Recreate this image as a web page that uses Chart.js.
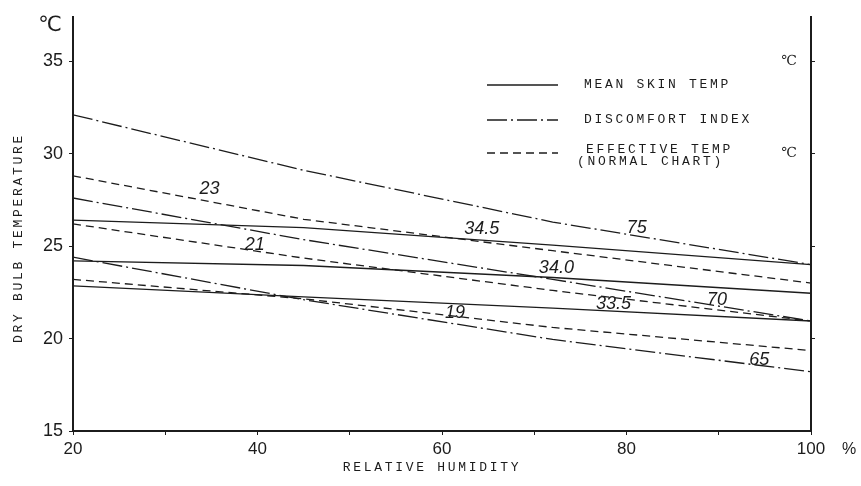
<!DOCTYPE html>
<html>
<head>
<meta charset="utf-8">
<script src="https://cdn.jsdelivr.net/npm/chart.js@4"></script>
<style>
  html, body { margin: 0; padding: 0; background: #fff; }
</style>
</head>
<body>
<canvas id="chart" width="861" height="486"></canvas>
<script>
// relative humidity (%) where the curves were read
const humidity = [20, 45, 72, 100];

// mean skin temperature isolines (deg C of dry bulb)
const skin345 = [26.4, 26.0, 25.05, 24.0];
const skin340 = [24.2, 23.95, 23.3, 22.45];
const skin335 = [22.85, 22.25, 21.65, 20.95];

// discomfort index isolines
const di75 = [32.1, 29.1, 26.3, 24.0];
const di70 = [27.6, 25.35, 23.2, 20.95];
const di65 = [24.4, 22.1, 19.95, 18.2];

// effective temperature isolines (normal chart)
const et23 = [28.8, 26.45, 24.75, 23.0];
const et21 = [26.2, 24.35, 22.6, 20.95];
const et19 = [23.2, 22.15, 20.6, 19.35];

const xTicks = [20, 30, 40, 50, 60, 70, 80, 90, 100];
const xTickLabels = ['20', '', '40', '', '60', '', '80', '', '100'];
const yTicks = [15, 20, 25, 30, 35];
const yRightTicks = [20, 25, 30, 35];
const yRightLabels = ['', '', '℃', '℃'];

// curve labels: text, humidity, temperature
const curveLabels = [
  ['34.5', 64.3, 25.95],
  ['34.0', 72.4, 23.8],
  ['33.5', 78.6, 21.85],
  ['75', 81.1, 26.0],
  ['70', 89.8, 22.1],
  ['65', 94.4, 18.85],
  ['23', 34.8, 28.1],
  ['21', 39.7, 25.05],
  ['19', 61.4, 21.4]
];

const ink = '#1c1c1c';
const SOLID = [];
const DASHDOT = [20, 4, 2, 4];
const DASHED = [8, 5];

function series(values, dash) {
  return {
    data: humidity.map((h, i) => ({ x: h, y: values[i] })),
    borderColor: ink,
    borderWidth: 1.3,
    borderDash: dash,
    pointRadius: 0,
    fill: false,
    tension: 0
  };
}

const paperText = {
  id: 'paperText',
  beforeDraw(chart) {
    const c = chart.ctx;
    c.save();
    c.fillStyle = '#fff';
    c.fillRect(0, 0, chart.width, chart.height);
    c.restore();
  },
  afterDraw(chart) {
    const c = chart.ctx;
    const xs = chart.scales.x, ys = chart.scales.y;
    c.save();
    c.fillStyle = ink;
    c.strokeStyle = ink;

    // labels on the curves
    c.font = 'italic 18px "Liberation Sans"';
    c.textAlign = 'center';
    c.textBaseline = 'middle';
    curveLabels.forEach(l => {
      c.fillText(l[0], xs.getPixelForValue(l[1]), ys.getPixelForValue(l[2]));
    });

    // degree marks inside the right axis
    c.font = '14px "DejaVu Serif"';
    yRightTicks.forEach((v, i) => {
      if (yRightLabels[i]) c.fillText(yRightLabels[i], xs.right - 22, ys.getPixelForValue(v));
    });

    // legend
    const legend = [
      [SOLID, ['MEAN SKIN TEMP']],
      [DASHDOT, ['DISCOMFORT INDEX']],
      [DASHED, ['EFFECTIVE TEMP', '(NORMAL CHART)']]
    ];
    const rows = [85, 120, 153];
    c.lineWidth = 1.3;
    c.font = '13px "Liberation Mono"';
    c.letterSpacing = '2.7px';
    c.textAlign = 'left';
    legend.forEach((item, i) => {
      c.setLineDash(item[0]);
      c.beginPath();
      c.moveTo(487, rows[i]);
      c.lineTo(558, rows[i]);
      c.stroke();
      if (item[1][1]) {
        c.fillText(item[1][0], 586, rows[i] - 3);
        c.fillText(item[1][1], 577, rows[i] + 9);
      } else {
        c.fillText(item[1][0], 584, rows[i]);
      }
    });
    c.setLineDash([]);

    // axis titles
    c.textAlign = 'center';
    c.fillText('RELATIVE HUMIDITY', (xs.left + xs.right) / 2 - 10, 468);
    c.save();
    c.translate(19, 238);
    c.rotate(-Math.PI / 2);
    c.fillText('DRY BULB TEMPERATURE', 0, 0);
    c.restore();

    c.letterSpacing = '0px';
    c.font = '21px "DejaVu Sans"';
    c.fillText('℃', 50, 26);
    c.font = '16px "Liberation Sans"';
    c.fillText('%', 849, 450);
    c.restore();
  }
};

new Chart(document.getElementById('chart').getContext('2d'), {
  type: 'line',
  data: {
    datasets: [
      series(skin345, SOLID), series(skin340, SOLID), series(skin335, SOLID),
      series(di75, DASHDOT), series(di70, DASHDOT), series(di65, DASHDOT),
      series(et23, DASHED), series(et21, DASHED), series(et19, DASHED)
    ]
  },
  options: {
    responsive: false,
    animation: false,
    layout: { padding: { top: 10, left: 0, right: 0, bottom: 0 } },
    plugins: { legend: { display: false }, tooltip: { enabled: false } },
    scales: {
      x: {
        type: 'linear',
        min: 20,
        max: 100,
        afterBuildTicks: s => { s.ticks = xTicks.map(v => ({ value: v })); },
        afterFit: s => { s.height = 55; },
        border: { color: ink, width: 2 },
        grid: { drawOnChartArea: false, color: ink, tickLength: 4 },
        ticks: {
          color: ink,
          padding: 4,
          maxRotation: 0,
          autoSkip: false,
          font: { family: 'Liberation Sans', size: 17 },
          callback: (v) => xTickLabels[xTicks.indexOf(v)]
        }
      },
      y: {
        min: 15,
        max: 37.4,
        afterBuildTicks: s => { s.ticks = yTicks.map(v => ({ value: v })); },
        afterFit: s => { s.width = 73; },
        border: { color: ink, width: 2 },
        grid: { drawOnChartArea: false, color: ink, tickLength: 4 },
        ticks: {
          color: ink,
          padding: 6,
          font: { family: 'Liberation Sans', size: 18 },
          callback: v => String(v)
        }
      },
      y2: {
        position: 'right',
        min: 15,
        max: 37.4,
        afterBuildTicks: s => { s.ticks = yRightTicks.map(v => ({ value: v })); },
        afterFit: s => { s.width = 50; },
        border: { color: ink, width: 2 },
        grid: { drawOnChartArea: false, color: ink, tickLength: 4 },
        ticks: { display: false }
      }
    }
  },
  plugins: [paperText]
});
</script>
</body>
</html>
